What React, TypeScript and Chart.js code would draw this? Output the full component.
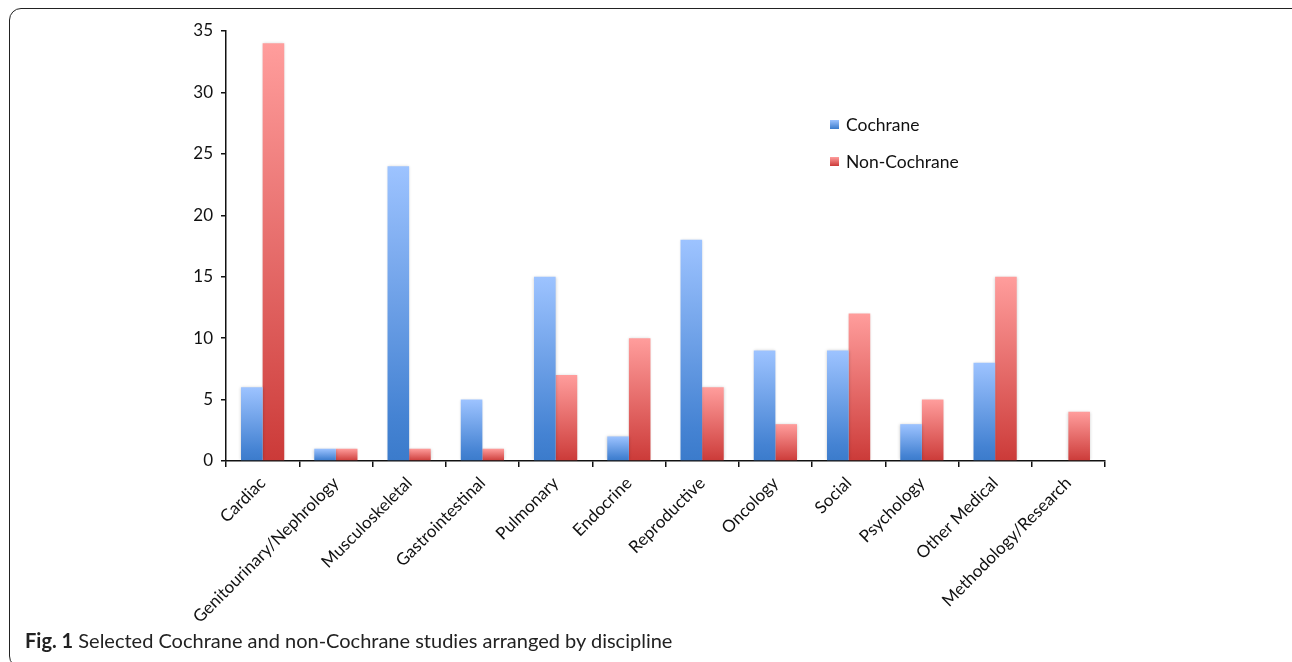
import React, { useEffect, useRef } from "react";
import { Chart, registerables } from "chart.js";

Chart.register(...registerables);

const categories = [
  "Cardiac",
  "Genitourinary/Nephrology",
  "Musculoskeletal",
  "Gastrointestinal",
  "Pulmonary",
  "Endocrine",
  "Reproductive",
  "Oncology",
  "Social",
  "Psychology",
  "Other Medical",
  "Methodology/Research",
];
const cochrane = [6, 1, 24, 5, 15, 2, 18, 9, 9, 3, 8, 0];
const nonCochrane = [34, 1, 1, 1, 7, 10, 6, 3, 12, 5, 15, 4];
const seriesNames = ["Cochrane", "Non-Cochrane"];
const yTicks = [0, 5, 10, 15, 20, 25, 30, 35];

const BLUE = ["#9DC3FF", "#4583D3", "#3B7BCB"];
const RED = ["#FF9D9C", "#D44A48", "#CB3A38"];

const FONT = "Lato, 'Open Sans', sans-serif";

function gradientFill(stops: string[]) {
  return (ctx: any) => {
    const chart = ctx.chart;
    const y = chart.scales && chart.scales.y;
    if (!y || ctx.type !== "data") return stops[1];
    const top = y.getPixelForValue(ctx.raw);
    const bottom = y.getPixelForValue(0);
    if (!isFinite(top) || !isFinite(bottom) || bottom - top < 1) return stops[1];
    const g = chart.ctx.createLinearGradient(0, top, 0, bottom);
    g.addColorStop(0, stops[0]);
    g.addColorStop(0.85, stops[1]);
    g.addColorStop(1, stops[2]);
    return g;
  };
}

const shadowPlugin = {
  id: "barShadow",
  beforeDatasetsDraw(chart: any) {
    const c = chart.ctx;
    c.save();
    c.shadowColor = "rgba(0,0,0,0.22)";
    c.shadowBlur = 3;
    c.shadowOffsetX = 0;
    c.shadowOffsetY = 0;
  },
  afterDatasetsDraw(chart: any) {
    chart.ctx.restore();
  },
};

export default function App() {
  const ref = useRef<HTMLCanvasElement | null>(null);

  useEffect(() => {
    if (!ref.current) return;
    const chart = new Chart(ref.current, {
      type: "bar",
      data: {
        labels: categories,
        datasets: [
          {
            label: seriesNames[0],
            data: cochrane,
            backgroundColor: gradientFill(BLUE),
            borderWidth: 0,
            barPercentage: 1,
            categoryPercentage: 0.59,
          },
          {
            label: seriesNames[1],
            data: nonCochrane,
            backgroundColor: gradientFill(RED),
            borderWidth: 0,
            barPercentage: 1,
            categoryPercentage: 0.59,
          },
        ],
      },
      options: {
        animation: false,
        responsive: false,
        maintainAspectRatio: false,
        layout: { padding: { left: 166, top: 31, right: 187, bottom: 41 } },
        plugins: {
          legend: { display: false },
          tooltip: { enabled: false },
          title: { display: false },
        },
        scales: {
          x: {
            type: "category",
            grid: {
              display: true,
              drawOnChartArea: false,
              drawTicks: true,
              tickLength: 6,
              color: "#111",
              lineWidth: 1.5,
              offset: true,
            },
            border: { display: true, color: "#111", width: 1.5 },
            ticks: {
              autoSkip: false,
              minRotation: 45,
              maxRotation: 45,
              padding: 6,
              color: "#111",
              font: { family: FONT, size: 17 },
            },
            afterFit: (scale: any) => {
              scale.height = 160;
            },
          },
          y: {
            min: 0,
            max: 35,
            afterBuildTicks: (scale: any) => {
              scale.ticks = yTicks.map((v) => ({ value: v }));
            },
            grid: {
              display: true,
              drawOnChartArea: false,
              drawTicks: true,
              tickLength: 5,
              color: "#111",
              lineWidth: 1.5,
            },
            border: { display: true, color: "#111", width: 1.5 },
            ticks: {
              padding: 8,
              color: "#111",
              font: { family: FONT, size: 17 },
            },
            afterFit: (scale: any) => {
              scale.width = 60;
            },
          },
        },
      },
      plugins: [shadowPlugin],
    });
    return () => chart.destroy();
  }, []);

  const legendItem = (name: string, stops: string[], top: number) => (
    <div
      style={{
        position: "absolute",
        left: 830,
        top: top - 12,
        height: 24,
        display: "flex",
        alignItems: "center",
        fontFamily: FONT,
        fontSize: 17.5,
        color: "#111",
      }}
    >
      <span
        style={{
          display: "inline-block",
          width: 9,
          height: 9,
          marginRight: 7,
          background: `linear-gradient(${stops[0]}, ${stops[2]})`,
        }}
      />
      {name}
    </div>
  );

  return (
    <div
      style={{
        position: "fixed",
        left: 0,
        top: 0,
        width: 1292,
        height: 662,
        overflow: "hidden",
        background: "#fff",
      }}
    >
      <div
        style={{
          position: "absolute",
          left: 9,
          top: 8,
          width: 1296,
          height: 660,
          border: "1.5px solid #222",
          borderRadius: 12,
          boxSizing: "border-box",
        }}
      />
      <canvas
        ref={ref}
        width={1292}
        height={662}
        style={{ position: "absolute", left: 0, top: 0, width: 1292, height: 662 }}
      />
      {legendItem(seriesNames[0], BLUE, 124)}
      {legendItem(seriesNames[1], RED, 161)}
      <div
        style={{
          position: "absolute",
          left: 25,
          top: 628,
          fontFamily: FONT,
          fontSize: 20,
          color: "#222",
          whiteSpace: "nowrap",
        }}
      >
        <b>Fig. 1</b> Selected Cochrane and non-Cochrane studies arranged by discipline
      </div>
    </div>
  );
}
